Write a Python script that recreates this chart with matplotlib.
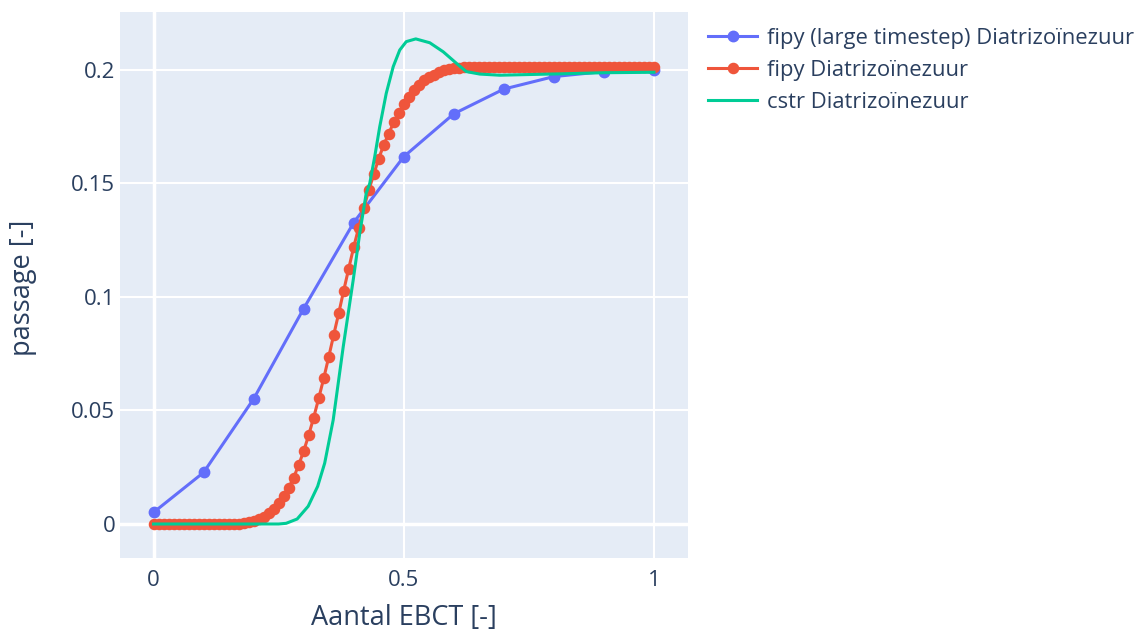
import numpy as np
import matplotlib.pyplot as plt
from matplotlib.lines import Line2D

plt.rcParams['font.family'] = ['Open Sans', 'DejaVu Sans']

# fipy met grote tijdstap
x_large = [0.0, 0.1, 0.2, 0.3, 0.4, 0.5, 0.6, 0.7, 0.8, 0.9, 1.0]
y_large = [0.0051, 0.0227, 0.0551, 0.0949, 0.1328, 0.1618, 0.1807, 0.1916,
           0.1971, 0.1993, 0.1998]

# fipy, stap 0.01
x_fipy = [round(0.01 * i, 2) for i in range(101)]
y_fipy = [0.0] * 16 + [
    0.0001, 0.0002, 0.0004, 0.0008, 0.0014, 0.0022, 0.0033, 0.0048, 0.0066,
    0.0092, 0.0122, 0.0160, 0.0204, 0.0260, 0.0321, 0.0391, 0.0469, 0.0553,
    0.0641, 0.0735, 0.0833, 0.0928, 0.1028, 0.1125, 0.1220, 0.1306, 0.1390,
    0.1470, 0.1540, 0.1610, 0.1670, 0.1720, 0.1770, 0.1810, 0.1850, 0.1880,
    0.1910, 0.1935, 0.1955, 0.1970, 0.1980, 0.1990, 0.1998, 0.2003, 0.2007,
    0.2010, 0.2012] + [0.2014] * 38

# cstr
x_cstr = [0.0, 0.1, 0.2, 0.25, 0.265, 0.287, 0.309, 0.328, 0.342, 0.359,
          0.379, 0.399, 0.412, 0.425, 0.432, 0.442, 0.452, 0.465, 0.479,
          0.492, 0.505, 0.524, 0.552, 0.579, 0.605, 0.625, 0.652, 0.692,
          0.75, 0.812, 0.9, 1.0]
y_cstr = [0.0, 0.0, 0.0, 0.0, 0.0003, 0.0022, 0.0078, 0.0166, 0.0268, 0.0458,
          0.078, 0.1075, 0.128, 0.1457, 0.150, 0.1618, 0.175, 0.1897, 0.2015,
          0.2088, 0.2125, 0.2137, 0.212, 0.208, 0.203, 0.1993, 0.1982, 0.1977,
          0.198, 0.1983, 0.1988, 0.199]

labels = ['fipy (large timestep) Diatrizoïnezuur', 'fipy Diatrizoïnezuur',
          'cstr Diatrizoïnezuur']
colors = ['#636efa', '#EF553B', '#00cc96']
txt = '#2a3f5f'

fig = plt.figure(figsize=(11.44, 6.32), dpi=100)
ax = fig.add_axes([119.5 / 1144, 74 / 632, 568.5 / 1144, 546 / 632])
ax.set_facecolor('#E5ECF6')

ax.plot(x_large, y_large, color=colors[0], lw=2.2, marker='o', ms=7.5, zorder=3)
ax.plot(x_fipy, y_fipy, color=colors[1], lw=2.2, marker='o', ms=7.3, zorder=4)
ax.plot(x_cstr, y_cstr, color=colors[2], lw=2.2, zorder=5)

ax.set_xlim(-0.068, 1.068)
ax.set_ylim(-0.01498, 0.22555)
ax.set_xticks([0, 0.5, 1])
ax.set_xticklabels(['0', '0.5', '1'])
ax.set_yticks([0, 0.05, 0.1, 0.15, 0.2])
ax.set_yticklabels(['0', '0.05', '0.1', '0.15', '0.2'])
ax.grid(True, color='white', lw=1.5, zorder=0)
ax.set_axisbelow(True)
ax.axhline(0, color='white', lw=2.5, zorder=1)
ax.axvline(0, color='white', lw=2.5, zorder=1)
for s in ax.spines.values():
    s.set_visible(False)
ax.tick_params(length=0, labelsize=16, labelcolor=txt)
ax.tick_params(axis='x', pad=9)
ax.tick_params(axis='y', pad=3)

# astitels op vaste plek onder/links van het plotvlak
fig.text(404 / 1144, 1 - 618 / 632, 'Aantal EBCT [-]', fontsize=19.5,
         color=txt, ha='center', va='center')
fig.text(23 / 1144, 1 - 288 / 632, 'passage [-]', fontsize=19.5,
         color=txt, ha='center', va='center', rotation=90)

handles = [
    Line2D([], [], color=colors[0], lw=2.2, marker='o', ms=7.5),
    Line2D([], [], color=colors[1], lw=2.2, marker='o', ms=7.3),
    Line2D([], [], color=colors[2], lw=2.2),
]
leg = fig.legend(handles, labels, loc='upper left',
                 bbox_to_anchor=(708 / 1144, 1 - 28 / 632), frameon=False,
                 fontsize=15.8, handlelength=2.25, handletextpad=0.45,
                 labelspacing=0.5, borderaxespad=0, borderpad=0)
for t in leg.get_texts():
    t.set_color(txt)

fig.savefig('out.png', dpi=100)
